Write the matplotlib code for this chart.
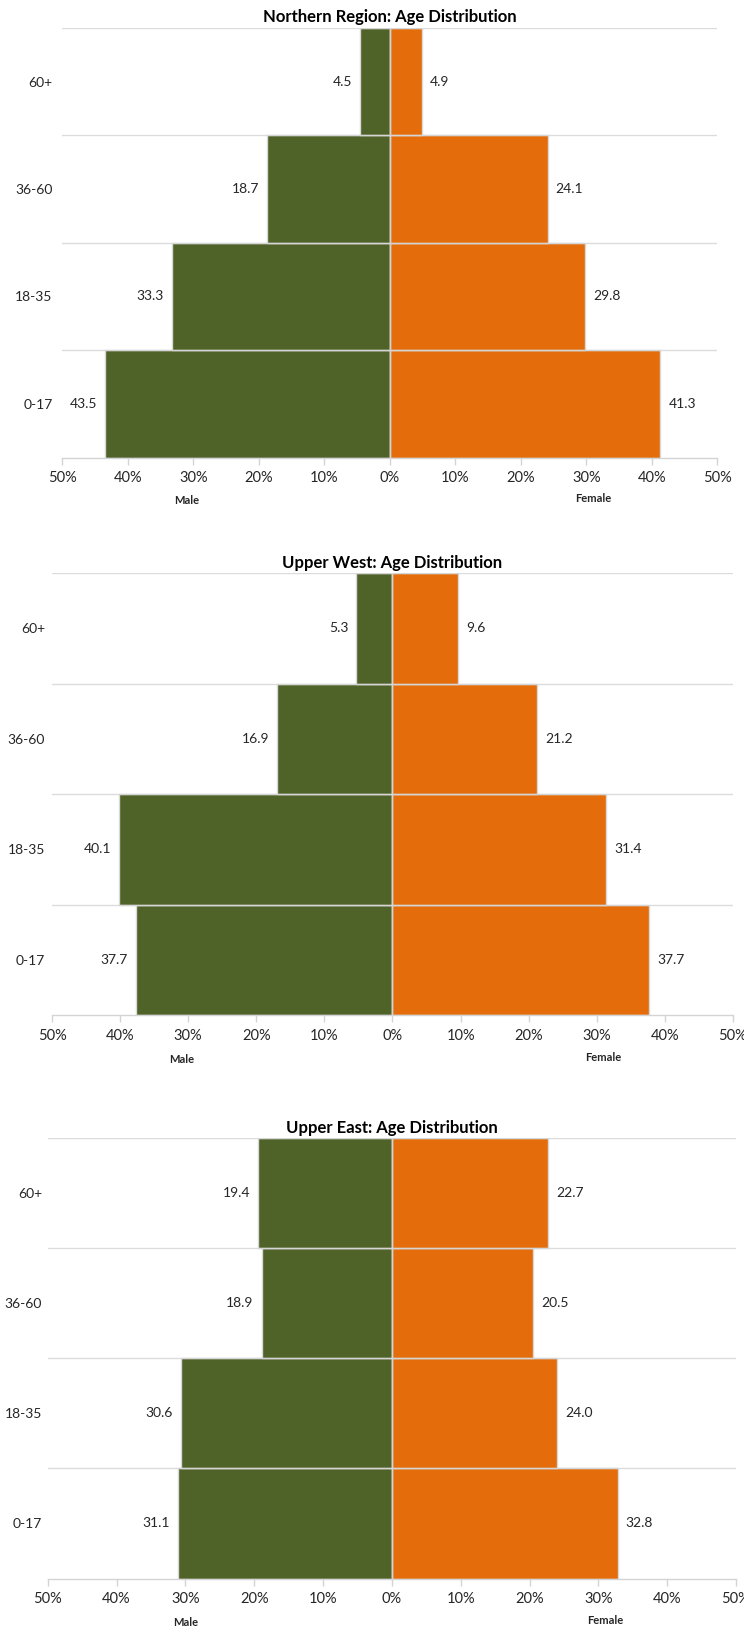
import matplotlib
matplotlib.use("Agg")
import matplotlib.pyplot as plt
from matplotlib.ticker import FixedLocator, FuncFormatter

plt.rcParams['font.family'] = ['Lato', 'DejaVu Sans']

age_groups = ["0-17", "18-35", "36-60", "60+"]

titles = [
    "Northern Region: Age Distribution",
    "Upper West: Age Distribution",
    "Upper East: Age Distribution",
]
male_values = [
    [43.5, 33.3, 18.7, 4.5],
    [37.7, 40.1, 16.9, 5.3],
    [31.1, 30.6, 18.9, 19.4],
]
female_values = [
    [41.3, 29.8, 24.1, 4.9],
    [37.7, 31.4, 21.2, 9.6],
    [32.8, 24.0, 20.5, 22.7],
]
tick_values = [-50, -40, -30, -20, -10, 0, 10, 20, 30, 40, 50]

MALE_COLOR = "#4f6228"
FEMALE_COLOR = "#e46c0a"
GRID_COLOR = "#d4d4d4"
TEXT_COLOR = "#262626"

fig = plt.figure(figsize=(7.44, 16.29), dpi=100)

# [left, bottom, width, height] for each panel
panel_boxes = [
    [0.0839, 0.7191, 0.8804, 0.2637],
    [0.0699, 0.3769, 0.9153, 0.2713],
    [0.0642, 0.0310, 0.9250, 0.2702],
]
# x-positions (axes fraction) of the Male / Female captions
caption_x = [(0.19, 0.81), (0.19, 0.81), (0.20, 0.81)]
ytick_pad = [7, 5, 4]

for title, males, females, box, (mx, fx), ypad in zip(titles, male_values, female_values,
                                                       panel_boxes, caption_x, ytick_pad):
    ax = fig.add_axes(box)
    y = list(range(len(age_groups)))
    neg_males = [-v for v in males]

    ax.barh(y, neg_males, height=1.0, color=MALE_COLOR,
            edgecolor="#d9d9d9", linewidth=1.0, zorder=2)
    ax.barh(y, females, height=1.0, color=FEMALE_COLOR,
            edgecolor="#d9d9d9", linewidth=1.0, zorder=2)

    # category boundaries
    for b in [0.5, 1.5, 2.5, 3.5]:
        ax.axhline(b, color=GRID_COLOR, linewidth=1.0, zorder=3, alpha=0.8)
    ax.axvline(0, color=GRID_COLOR, linewidth=1.0, zorder=3)

    for yi, m, f in zip(y, males, females):
        ax.text(-m - 1.2, yi, f"{m:.1f}", ha="right", va="center",
                fontsize=10, color=TEXT_COLOR)
        ax.text(f + 1.2, yi, f"{f:.1f}", ha="left", va="center",
                fontsize=10, color=TEXT_COLOR)

    ax.set_xlim(-50, 50)
    ax.set_ylim(-0.5, 3.5)
    ax.xaxis.set_major_locator(FixedLocator(tick_values))
    ax.xaxis.set_major_formatter(FuncFormatter(lambda v, p: f"{abs(int(round(v)))}%"))
    ax.set_yticks(y)
    ax.set_yticklabels(age_groups)

    for side in ["top", "left", "right"]:
        ax.spines[side].set_visible(False)
    ax.spines["bottom"].set_color(GRID_COLOR)
    ax.spines["bottom"].set_linewidth(1.0)
    ax.tick_params(axis="x", direction="out", length=5, width=1.0,
                   color=GRID_COLOR, labelsize=10.5, labelcolor=TEXT_COLOR, pad=5)
    ax.tick_params(axis="y", length=0, labelsize=10, labelcolor=TEXT_COLOR, pad=ypad)

    ax.set_title(title, fontsize=12, fontweight="bold", color="#000000", pad=4)

    ax.text(mx, -0.1, "Male", transform=ax.transAxes, ha="center", va="center",
            fontsize=8, fontweight="bold", color=TEXT_COLOR)
    ax.text(fx, -0.095, "Female", transform=ax.transAxes, ha="center", va="center",
            fontsize=8, fontweight="bold", color=TEXT_COLOR)

fig.savefig("out.png", dpi=100, facecolor="white")
